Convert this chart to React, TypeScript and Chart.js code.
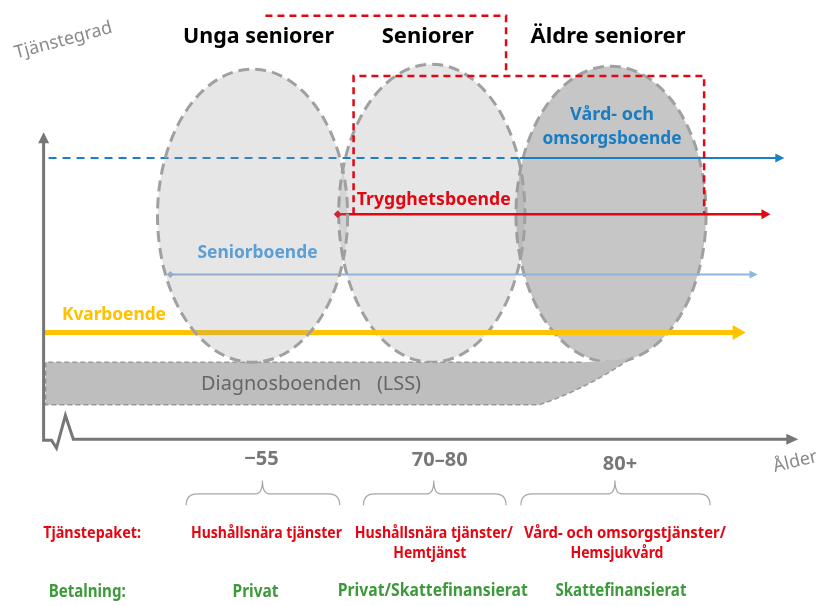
import React, { useEffect, useRef } from 'react';
import { Chart, registerables } from 'chart.js';

Chart.register(...registerables);

const FONT = '"Noto Sans", "DejaVu Sans", sans-serif';

// ---- Data (diagram units: x = age axis position, y = service degree, 0 at top) ----
const ageGroups = ['Unga seniorer', 'Seniorer', 'Äldre seniorer'];
const ageGroupX = [257, 428, 610];

const ageTicks = ['−55', '70–80', '80+'];
const ageTickX = [260, 440, 622];
const ageTickY = [461, 462, 466];

const braceFrom = [184, 363, 522];
const braceMid = [261, 434, 617];
const braceTo = [339, 507, 713];

const servicePackages = [
  ['Hushållsnära tjänster'],
  ['Hushållsnära tjänster/', 'Hemtjänst'],
  ['Vård- och omsorgstjänster/', 'Hemsjukvård'],
];
const servicePackageX = [[265], [434, 430], [627, 619]];

const payments = ['Privat', 'Privat/Skattefinansierat', 'Skattefinansierat'];
const paymentX = [254, 433, 623];

const housingNames = ['Kvarboende', 'Seniorboende', 'Trygghetsboende', 'Vård- och omsorgsboende'];
const housingLevel = [333, 274, 213, 156];
const housingStart = [40, 168, 337, 45];
const housingSolidFrom = [40, 168, 337, 521];
const housingEnd = [749, 761, 774, 788];

const ellipseCx = [251, 432, 613];
const ellipseCy = [214.5, 212, 213];
const ellipseRx = [96, 94, 96];
const ellipseRy = [148.5, 151, 150];

// ---- Styles / geometry ----
const housingStyle = [
  { color: '#ffc400', width: 5, head: 13, hw: 7.5, marker: 0, text: '#ffc000', lx: 111, ly: 315.5 },
  { color: '#8fb5dc', width: 2, head: 8, hw: 4, marker: 3.5, text: '#5b9fd6', lx: 256, ly: 252 },
  { color: '#e30613', width: 2.5, head: 9, hw: 5, marker: 4, text: '#e30613', lx: 434, ly: 198.5 },
  { color: '#1b7fc6', width: 2, head: 9, hw: 4.5, marker: 0, text: '#1a7cc1', lx: 614, ly: 112 },
];

const axisPath = [
  [40, 140], [40, 442], [48, 442], [53, 450], [62, 417], [70, 441], [791, 441],
];

const band = { left: 42, top: 363, bottom: 406, dashEnd: 583, joinX: 633, joinY: 359, bottomRight: 541 };

const redBoxUpper = [[264, 12], [507, 12], [507, 73]];
const redBoxLower = [[353, 213], [353, 73], [707, 73], [707, 213]];

function drawText(
  ctx: CanvasRenderingContext2D,
  s: string,
  x: number,
  y: number,
  o: { size: number; weight?: string; color: string; align?: CanvasTextAlign; maxWidth?: number; rotate?: number }
) {
  ctx.save();
  ctx.translate(x, y);
  if (o.rotate) ctx.rotate((o.rotate * Math.PI) / 180);
  ctx.font = `${o.weight ?? 'bold'} ${o.size}px ${FONT}`;
  ctx.fillStyle = o.color;
  ctx.textAlign = o.align ?? 'center';
  ctx.textBaseline = 'middle';
  if (o.maxWidth) ctx.fillText(s, 0, 0, o.maxWidth);
  else ctx.fillText(s, 0, 0);
  ctx.restore();
}

function drawEllipse(chart: any, i: number, fill: string) {
  const { ctx, scales } = chart;
  const X = (v: number) => scales.x.getPixelForValue(v);
  const Y = (v: number) => scales.y.getPixelForValue(v);
  const cx = X(ellipseCx[i]);
  const cy = Y(ellipseCy[i]);
  const rx = Math.abs(X(ellipseCx[i] + ellipseRx[i]) - cx);
  const ry = Math.abs(Y(ellipseCy[i] + ellipseRy[i]) - cy);
  ctx.save();
  ctx.beginPath();
  ctx.ellipse(cx, cy, rx, ry, 0, 0, Math.PI * 2);
  ctx.fillStyle = fill;
  ctx.fill();
  ctx.setLineDash([11, 6]);
  ctx.lineWidth = 3;
  ctx.strokeStyle = '#a0a0a0';
  ctx.stroke();
  ctx.restore();
}

const diagramPlugin = {
  id: 'diagram',
  beforeDatasetsDraw(chart: any) {
    const { ctx, scales } = chart;
    const X = (v: number) => scales.x.getPixelForValue(v);
    const Y = (v: number) => scales.y.getPixelForValue(v);

    drawEllipse(chart, 2, 'rgba(130,130,130,0.46)');
    drawEllipse(chart, 1, 'rgba(150,150,150,0.24)');

    // LSS band (merges into the lower right of the "80+" ellipse)
    ctx.save();
    ctx.beginPath();
    ctx.moveTo(X(band.left), Y(band.top));
    ctx.lineTo(X(band.dashEnd), Y(band.top));
    ctx.lineTo(X(band.joinX - 20), Y(band.top - 1.5));
    ctx.lineTo(X(band.joinX), Y(band.joinY));
    ctx.quadraticCurveTo(X(590), Y(389), X(band.bottomRight), Y(band.bottom));
    ctx.lineTo(X(band.left), Y(band.bottom));
    ctx.closePath();
    ctx.fillStyle = '#bebebe';
    ctx.fill();
    ctx.setLineDash([5, 3]);
    ctx.lineWidth = 1.5;
    ctx.strokeStyle = '#999999';
    ctx.beginPath();
    ctx.moveTo(X(band.dashEnd), Y(band.top));
    ctx.lineTo(X(band.left), Y(band.top));
    ctx.lineTo(X(band.left), Y(band.bottom));
    ctx.lineTo(X(band.bottomRight), Y(band.bottom));
    ctx.quadraticCurveTo(X(590), Y(389), X(band.joinX), Y(band.joinY));
    ctx.stroke();
    ctx.restore();
  },
  afterDatasetsDraw(chart: any) {
    const { ctx, scales } = chart;
    const X = (v: number) => scales.x.getPixelForValue(v);
    const Y = (v: number) => scales.y.getPixelForValue(v);

    drawEllipse(chart, 0, 'rgba(150,150,150,0.24)');

    // Arrow heads of housing lines
    housingNames.forEach((_, i) => {
      const st = housingStyle[i];
      const tx = X(housingEnd[i]);
      const ty = Y(housingLevel[i]);
      ctx.beginPath();
      ctx.moveTo(tx, ty);
      ctx.lineTo(tx - st.head, ty - st.hw);
      ctx.lineTo(tx - st.head, ty + st.hw);
      ctx.closePath();
      ctx.fillStyle = st.color;
      ctx.fill();
    });

    // Axis arrow heads
    ctx.fillStyle = '#767676';
    ctx.beginPath();
    ctx.moveTo(X(40), Y(130));
    ctx.lineTo(X(40) - 5.5, Y(141));
    ctx.lineTo(X(40) + 5.5, Y(141));
    ctx.closePath();
    ctx.fill();
    ctx.beginPath();
    ctx.moveTo(X(802), Y(441));
    ctx.lineTo(X(790), Y(441) - 5.5);
    ctx.lineTo(X(790), Y(441) + 5.5);
    ctx.closePath();
    ctx.fill();

    // Red dashed outline
    ctx.save();
    ctx.setLineDash([7, 5]);
    ctx.lineWidth = 2.5;
    ctx.strokeStyle = '#e30613';
    [redBoxUpper, redBoxLower].forEach((path) => {
      ctx.beginPath();
      path.forEach(([px, py], k) => (k === 0 ? ctx.moveTo(X(px), Y(py)) : ctx.lineTo(X(px), Y(py))));
      ctx.stroke();
    });
    ctx.restore();

    // Braces
    ctx.save();
    ctx.strokeStyle = '#a6a6a6';
    ctx.lineWidth = 1.2;
    braceFrom.forEach((x1v, i) => {
      const x1 = X(x1v), x2 = X(braceTo[i]), xm = X(braceMid[i]);
      const yT = Y(483), yM = Y(496.5), yB = Y(508);
      ctx.beginPath();
      ctx.moveTo(x1, yB);
      ctx.quadraticCurveTo(x1, yM, x1 + 11, yM);
      ctx.lineTo(xm - 7, yM);
      ctx.quadraticCurveTo(xm, yM, xm, yT);
      ctx.quadraticCurveTo(xm, yM, xm + 7, yM);
      ctx.lineTo(x2 - 11, yM);
      ctx.quadraticCurveTo(x2, yM, x2, yB);
      ctx.stroke();
    });
    ctx.restore();

    // Titles
    const titleW = [151, 93, 155];
    ageGroups.forEach((g, i) => drawText(ctx, g, X(ageGroupX[i]), Y(33.5), { size: 22, color: '#000', maxWidth: titleW[i] }));

    // Axis titles
    drawText(ctx, 'Tjänstegrad', X(60), Y(37), { size: 18, weight: 'normal', color: '#8a8a8a', rotate: -15 });
    drawText(ctx, 'Ålder', X(799), Y(464), { size: 18, weight: 'normal', color: '#8a8a8a', rotate: -14 });

    // Housing labels
    drawText(ctx, housingNames[0], X(housingStyle[0].lx), Y(housingStyle[0].ly), { size: 18, color: housingStyle[0].text, maxWidth: 104 });
    drawText(ctx, housingNames[1], X(housingStyle[1].lx), Y(housingStyle[1].ly), { size: 18, color: housingStyle[1].text, maxWidth: 120 });
    drawText(ctx, housingNames[2], X(housingStyle[2].lx), Y(housingStyle[2].ly), { size: 18, color: housingStyle[2].text, maxWidth: 154 });
    drawText(ctx, 'Vård- och', X(housingStyle[3].lx), Y(housingStyle[3].ly), { size: 18, color: housingStyle[3].text, maxWidth: 87 });
    drawText(ctx, 'omsorgsboende', X(housingStyle[3].lx), Y(housingStyle[3].ly + 24.5), { size: 18, color: housingStyle[3].text, maxWidth: 139 });

    // LSS label
    drawText(ctx, 'Diagnosboenden   (LSS)', X(199), Y(385), { size: 20, weight: 'normal', color: '#666666', align: 'left', maxWidth: 220 });

    // Age ticks
    ageTicks.forEach((t, i) => drawText(ctx, t, X(ageTickX[i]), Y(ageTickY[i]), { size: 20, color: '#777777' }));

    // Service packages
    drawText(ctx, 'Tjänstepaket:', X(89), Y(536.5), { size: 16.5, color: '#e30613', maxWidth: 98 });
    const pkgW = [[151], [158, 73], [202, 93]];
    servicePackages.forEach((lines, i) =>
      lines.forEach((l, k) =>
        drawText(ctx, l, X(servicePackageX[i][k]), Y(536.5 + k * 20.5), { size: 16.5, color: '#e30613', maxWidth: pkgW[i][k] })
      )
    );

    // Payments
    drawText(ctx, 'Betalning:', X(84), Y(596.5), { size: 17, color: '#3d9a3a', maxWidth: 77 });
    const payW = [46, 190, 131];
    payments.forEach((p, i) => drawText(ctx, p, X(paymentX[i]), Y(i === 0 ? 596.5 : 595), { size: 17, color: '#3d9a3a', maxWidth: payW[i] }));
  },
};

export default function App() {
  const ref = useRef<HTMLCanvasElement>(null);

  useEffect(() => {
    const canvas = ref.current;
    if (!canvas) return;

    const datasets: any[] = [
      {
        label: 'axes',
        data: axisPath.map(([x, y]) => ({ x, y })),
        showLine: true,
        borderColor: '#767676',
        borderWidth: 3,
        borderJoinStyle: 'miter',
        pointRadius: 0,
      },
    ];

    housingNames.forEach((name, i) => {
      const st = housingStyle[i];
      const pts = [{ x: housingStart[i], y: housingLevel[i] }];
      const dashed = housingSolidFrom[i] > housingStart[i];
      if (dashed) pts.push({ x: housingSolidFrom[i], y: housingLevel[i] });
      pts.push({ x: housingEnd[i] - st.head + 1, y: housingLevel[i] });
      datasets.push({
        label: name,
        data: pts,
        showLine: true,
        borderColor: st.color,
        borderWidth: st.width,
        pointRadius: pts.map((_, k) => (k === 0 ? st.marker : 0)),
        pointStyle: 'rectRot',
        pointBackgroundColor: st.color,
        pointBorderColor: st.color,
        pointBorderWidth: 0,
        segment: dashed
          ? { borderDash: (c: any) => (c.p0DataIndex === 0 ? [8, 6] : undefined) }
          : undefined,
      });
    });

    const chart = new Chart(canvas, {
      type: 'scatter',
      data: { datasets },
      options: {
        responsive: false,
        animation: false,
        events: [],
        layout: { padding: 0 },
        plugins: { legend: { display: false }, tooltip: { enabled: false } },
        scales: {
          x: { type: 'linear', min: 0, max: 822, display: false },
          y: { type: 'linear', min: 0, max: 606, reverse: true, display: false },
        },
      },
      plugins: [diagramPlugin],
    });

    return () => chart.destroy();
  }, []);

  return (
    <div style={{ position: 'absolute', left: 0, top: 0, width: 822, height: 606, background: '#fff' }}>
      <canvas ref={ref} width={822} height={606} />
    </div>
  );
}
